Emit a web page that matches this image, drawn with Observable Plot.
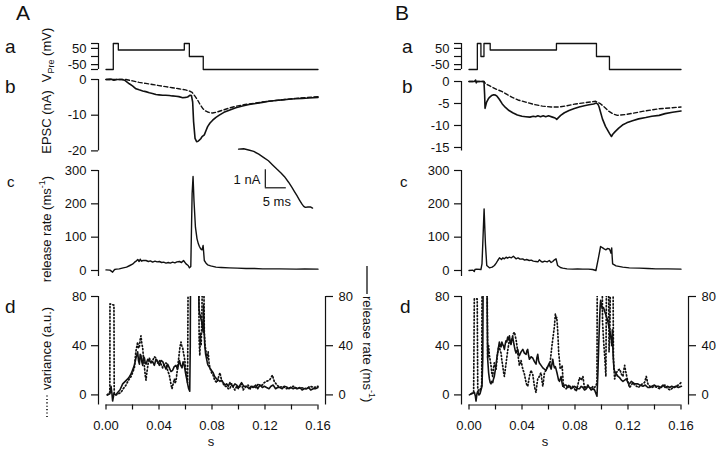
<!DOCTYPE html>
<html><head><meta charset="utf-8">
<script src="https://cdn.jsdelivr.net/npm/d3@7"></script>
<script src="https://cdn.jsdelivr.net/npm/@observablehq/plot@0.6"></script>
<style>
body{margin:0;background:#fff;}
#fig{position:relative;width:720px;height:452px;overflow:hidden;background:#fff;}
#fig svg{position:absolute;overflow:visible;}
</style></head><body><div id="fig"></div>
<script>
// ---------------- data ----------------
const xTicks = [0,0.02,0.04,0.06,0.08,0.10,0.12,0.14,0.16];
const vTicks = [80,50,0,-50,-80];
const vTickLabels = {"50":"50","-50":"-50"};
const epscTicksA = [0,-10,-20];
const epscTicksB = [0,-5,-10,-15];
const rateTicks = [0,100,200,300];
const dTicks = [0,40,80];

// presynaptic voltage (mV), step changes [s, mV]
const vPreA = [[0,-80],[0.0055,80],[0.0093,40],[0.0591,80],[0.0629,0],[0.0734,-80],[0.16,-80]];
const vPreB = [[0,-80],[0.0063,80],[0.009,0],[0.0113,80],[0.016,40],[0.066,80],[0.0962,0],[0.106,-80],[0.16,-80]];

// EPSC (nA) measured (solid) and dashed
const epscA = [[0,0],[0.004,0.1],[0.006,-0.2],[0.008,0],[0.012,0],[0.014,-0.2],[0.0176,-1.2],[0.020,-1.8],[0.0226,-2.6],[0.025,-2.9],[0.0277,-3.2],[0.030,-3.4],[0.0327,-3.7],[0.035,-3.9],[0.0377,-4.2],[0.040,-4.3],[0.0428,-4.4],[0.045,-4.4],[0.0478,-4.5],[0.050,-4.6],[0.0528,-4.7],[0.055,-4.8],[0.0579,-5.1],[0.060,-5.0],[0.0616,-4.9],[0.0635,-4.4],[0.0645,-4.5],[0.0654,-6.3],[0.0661,-11.8],[0.0672,-16.5],[0.0684,-17.4],[0.0695,-17.3],[0.0704,-17.0],[0.0715,-16.6],[0.0725,-16.0],[0.0742,-15.5],[0.0755,-14.3],[0.0767,-13.2],[0.0785,-12.2],[0.0805,-11.4],[0.083,-10.6],[0.0855,-10.0],[0.089,-9.2],[0.093,-8.6],[0.098,-7.9],[0.103,-7.4],[0.108,-7.0],[0.113,-6.7],[0.118,-6.4],[0.123,-6.1],[0.128,-5.9],[0.133,-5.7],[0.138,-5.55],[0.143,-5.4],[0.148,-5.3],[0.153,-5.2],[0.16,-5.0]];
const epscDashA = [[0,0],[0.015,0],[0.020,-0.4],[0.025,-0.8],[0.030,-1.1],[0.035,-1.4],[0.040,-1.7],[0.045,-2.0],[0.050,-2.3],[0.055,-2.6],[0.060,-2.9],[0.0635,-3.3],[0.065,-3.6],[0.067,-4.6],[0.0692,-5.8],[0.071,-7.0],[0.073,-8.1],[0.075,-8.8],[0.0767,-9.1],[0.0785,-9.3],[0.0805,-9.4],[0.084,-9.1],[0.088,-8.6],[0.093,-8.0],[0.098,-7.5],[0.105,-7.0],[0.113,-6.6],[0.120,-6.2],[0.128,-5.9],[0.135,-5.6],[0.143,-5.3],[0.150,-5.1],[0.16,-4.8]];
const epscB = [[0,0],[0.004,0],[0.005,0.3],[0.0055,-0.3],[0.006,0],[0.0113,0],[0.0118,-3],[0.0121,-6.1],[0.0133,-4.7],[0.0145,-4.0],[0.0155,-3.6],[0.017,-3.2],[0.0187,-3.0],[0.020,-3.1],[0.0213,-3.4],[0.023,-4.1],[0.0251,-5.1],[0.0275,-5.9],[0.0302,-6.6],[0.033,-7.1],[0.0365,-7.6],[0.040,-7.9],[0.0428,-8.0],[0.046,-8.1],[0.0485,-7.9],[0.0503,-8.0],[0.052,-7.8],[0.054,-8.0],[0.056,-7.8],[0.0579,-8.0],[0.060,-7.8],[0.063,-8.1],[0.065,-8.3],[0.0662,-8.6],[0.0675,-8.2],[0.0692,-7.7],[0.072,-7.1],[0.0755,-6.6],[0.079,-6.2],[0.0831,-5.8],[0.087,-5.5],[0.0906,-5.3],[0.094,-5.1],[0.0962,-4.9],[0.0975,-5.3],[0.0982,-5.8],[0.1007,-8.5],[0.103,-10.2],[0.1045,-11.0],[0.106,-11.8],[0.1075,-12.5],[0.1085,-12.0],[0.1103,-11.4],[0.113,-10.6],[0.1158,-9.9],[0.119,-9.4],[0.1234,-8.9],[0.128,-8.5],[0.1334,-8.2],[0.138,-7.9],[0.1435,-7.7],[0.148,-7.3],[0.1536,-7.0],[0.16,-6.7]];
const epscDashB = [[0,0],[0.0113,0],[0.0125,-0.5],[0.015,-0.9],[0.0176,-1.3],[0.021,-1.8],[0.0251,-2.3],[0.029,-3.0],[0.0327,-3.6],[0.037,-4.2],[0.0428,-4.7],[0.049,-5.2],[0.0554,-5.6],[0.062,-5.8],[0.068,-5.8],[0.074,-5.5],[0.0805,-5.1],[0.088,-4.8],[0.0956,-4.5],[0.0994,-5.1],[0.1025,-5.9],[0.1057,-6.8],[0.109,-7.4],[0.112,-7.7],[0.1183,-7.5],[0.124,-7.2],[0.1309,-6.8],[0.137,-6.5],[0.1435,-6.2],[0.152,-6.0],[0.16,-5.8]];

// release rate (ms^-1)
const rateA = [[0,2],[0.003,1],[0.005,-5],[0.0065,3],[0.008,4],[0.010,5],[0.013,8],[0.0155,10],[0.018,15],[0.020,19],[0.0216,25],[0.023,29],[0.024,33],[0.025,27],[0.0258,34],[0.0267,28],[0.028,30],[0.0302,30],[0.032,27],[0.0335,29],[0.0352,25],[0.037,28],[0.0385,26],[0.0403,27],[0.042,24],[0.0435,25],[0.0453,22],[0.047,24],[0.0485,22],[0.0503,25],[0.052,23],[0.0535,26],[0.0554,27],[0.057,24],[0.0585,30],[0.0604,20],[0.062,15],[0.063,8],[0.064,12],[0.065,230],[0.0657,282],[0.0664,210],[0.0675,130],[0.0687,95],[0.0697,80],[0.0705,72],[0.0715,65],[0.0725,62],[0.073,70],[0.0733,75],[0.0737,55],[0.0742,30],[0.0755,22],[0.0767,17],[0.079,14],[0.083,10],[0.087,9],[0.093,8],[0.099,7],[0.1057,6],[0.112,6],[0.1183,5],[0.125,5],[0.131,5],[0.1435,4],[0.150,5],[0.16,4]];
const rateB = [[0,0],[0.003,1],[0.004,-3],[0.0045,3],[0.0057,4],[0.009,3],[0.0098,20],[0.0104,80],[0.0114,185],[0.012,120],[0.0124,80],[0.0134,15],[0.0154,8],[0.0175,10],[0.0192,15],[0.0205,22],[0.0217,30],[0.023,38],[0.0245,33],[0.0255,38],[0.0267,35],[0.028,40],[0.029,37],[0.0305,40],[0.032,38],[0.0335,43],[0.0343,40],[0.0355,35],[0.037,38],[0.0385,34],[0.0405,35],[0.042,31],[0.0435,33],[0.0455,30],[0.047,31],[0.0485,28],[0.0506,27],[0.052,26],[0.0531,32],[0.0545,27],[0.0556,25],[0.057,28],[0.059,26],[0.0606,30],[0.062,24],[0.0632,27],[0.0645,32],[0.0657,35],[0.0669,15],[0.069,9],[0.0707,7],[0.074,5],[0.0782,4],[0.082,5],[0.0858,4],[0.090,4],[0.0933,3],[0.0958,0],[0.0978,40],[0.0993,72],[0.100,70],[0.1009,68],[0.102,65],[0.1034,62],[0.1045,66],[0.1059,65],[0.1065,60],[0.1072,52],[0.1077,68],[0.108,45],[0.1084,20],[0.111,14],[0.116,10],[0.121,8],[0.1285,7],[0.135,6],[0.1411,5],[0.150,5],[0.16,4]];

// panel d: release rate (solid) and variance (dotted); values above 80 are off-scale
const dRateA = [[0.001,0],[0.003,1],[0.0038,7],[0.0045,1],[0.005,-5],[0.006,1],[0.0075,0],[0.0088,2],[0.0105,4],[0.0126,9],[0.0145,11],[0.0164,13],[0.0178,15],[0.0189,17],[0.020,20],[0.0214,24],[0.0226,30],[0.0239,35],[0.0245,28],[0.0252,25],[0.0258,33],[0.0264,32],[0.027,27],[0.0277,24],[0.0283,31],[0.029,30],[0.0296,26],[0.0302,25],[0.0315,29],[0.0327,28],[0.034,26],[0.0352,27],[0.0365,24],[0.0377,29],[0.039,27],[0.0403,24],[0.0415,28],[0.0428,27],[0.044,24],[0.0453,21],[0.0465,25],[0.0478,22],[0.049,19],[0.0503,20],[0.0515,23],[0.0528,24],[0.054,21],[0.0554,28],[0.0564,24],[0.0574,22],[0.0582,27],[0.0591,24],[0.060,18],[0.0609,13],[0.0618,8],[0.0624,5],[0.0632,3],[0.0636,40],[0.0638,100],[0.0698,100],[0.0702,70],[0.0707,66],[0.0713,64],[0.0718,61],[0.0723,59],[0.0728,55],[0.0733,51],[0.0736,73],[0.0738,60],[0.0745,41],[0.0752,33],[0.0758,30],[0.0765,26],[0.0771,24],[0.0784,22],[0.0795,20],[0.0809,18],[0.082,15],[0.0835,13],[0.0848,12],[0.086,11],[0.0872,12],[0.0885,10],[0.0898,8],[0.091,9],[0.0923,7],[0.0935,10],[0.0948,8],[0.0961,7],[0.0973,9],[0.0986,8],[0.1,6],[0.1023,10],[0.104,7],[0.1061,7],[0.108,5],[0.1095,7],[0.1111,6],[0.113,8],[0.1145,5],[0.1162,8],[0.118,6],[0.1195,7],[0.1212,6],[0.123,5],[0.1245,7],[0.1262,8],[0.128,5],[0.1295,6],[0.1313,6],[0.133,5],[0.1345,7],[0.1363,6.5],[0.138,5],[0.1395,6],[0.1413,5],[0.143,6],[0.1445,5],[0.1463,6],[0.148,4],[0.1495,5],[0.1514,5],[0.153,6],[0.1545,4],[0.1564,5],[0.158,5],[0.16,6]];
const dVarA = [[0.001,0],[0.0025,2],[0.0029,2],[0.003,74],[0.006,73],[0.0062,1],[0.0075,0],[0.0095,1],[0.0113,2],[0.013,5],[0.0151,8],[0.017,12],[0.0189,15],[0.020,18],[0.0214,22],[0.0225,35],[0.0239,43],[0.0245,38],[0.0252,39],[0.0258,45],[0.0264,48],[0.027,42],[0.0277,38],[0.0283,30],[0.029,23],[0.0296,16],[0.0302,12],[0.0308,18],[0.0315,23],[0.032,27],[0.0327,30],[0.034,27],[0.0352,28],[0.0365,31],[0.0377,30],[0.039,26],[0.0403,28],[0.0415,25],[0.0428,22],[0.044,25],[0.0453,26],[0.0465,20],[0.0478,16],[0.049,9],[0.0498,5],[0.0507,9],[0.0516,13],[0.0522,10],[0.0528,11],[0.0538,20],[0.0549,30],[0.0557,38],[0.0566,43],[0.0572,40],[0.0579,38],[0.0585,34],[0.0591,31],[0.0598,25],[0.0604,19],[0.061,14],[0.0616,10],[0.062,100],[0.070,100],[0.0703,45],[0.0708,32],[0.0713,50],[0.0718,40],[0.0723,60],[0.0728,100],[0.0738,100],[0.0742,50],[0.0748,40],[0.0755,35],[0.0765,30],[0.0771,35],[0.0778,26],[0.0784,22],[0.0797,18],[0.0809,16],[0.082,12],[0.0835,10],[0.0848,14],[0.086,18],[0.0872,12],[0.0885,9],[0.0898,7],[0.091,7],[0.0923,5],[0.0935,5],[0.0948,9],[0.0961,6],[0.0973,4],[0.0986,7],[0.1,5],[0.1023,9],[0.1035,4],[0.105,6],[0.1072,8],[0.109,5],[0.111,7],[0.113,6],[0.115,9],[0.117,7],[0.1195,10],[0.121,11],[0.1235,12],[0.1256,16],[0.127,11],[0.129,8],[0.1313,6],[0.133,7],[0.1363,5],[0.139,6],[0.1413,7],[0.144,5],[0.147,6],[0.1514,5],[0.154,7],[0.157,6],[0.16,7]];
const dRateB = [[0.0003,0],[0.002,1],[0.0041,2],[0.0048,-1],[0.0053,-5],[0.006,1],[0.0066,3],[0.0075,0],[0.0083,1],[0.0098,7],[0.0104,30],[0.0107,100],[0.0135,100],[0.0138,60],[0.0141,29],[0.0148,18],[0.0154,13],[0.016,10],[0.0166,9],[0.0172,11],[0.0179,10],[0.0185,13],[0.0191,15],[0.0198,20],[0.0204,24],[0.021,30],[0.0216,34],[0.0222,38],[0.0229,43],[0.0235,40],[0.0242,39],[0.0248,43],[0.0254,41],[0.026,40],[0.0267,37],[0.0273,41],[0.0279,44],[0.0285,43],[0.0292,47],[0.0298,45],[0.0305,48],[0.031,44],[0.0317,41],[0.0323,45],[0.033,47],[0.0336,43],[0.0343,39],[0.0349,36],[0.0355,34],[0.0362,36],[0.0368,37],[0.0374,33],[0.038,32],[0.0393,35],[0.0406,37],[0.0418,34],[0.0431,33],[0.0437,36],[0.0443,37],[0.045,32],[0.0456,29],[0.0469,31],[0.0481,30],[0.0494,27],[0.0506,25],[0.0512,30],[0.0519,33],[0.0525,28],[0.0531,26],[0.0544,24],[0.0557,22],[0.0569,21],[0.0582,20],[0.0594,23],[0.0607,26],[0.0613,23],[0.062,21],[0.0626,25],[0.0632,29],[0.0638,25],[0.0645,22],[0.0651,23],[0.0657,21],[0.0664,18],[0.067,15],[0.0676,12],[0.0683,11],[0.0689,13],[0.0695,15],[0.0702,10],[0.0708,7],[0.072,8],[0.0733,8],[0.0745,6],[0.0758,7],[0.077,5],[0.0784,6],[0.0796,7],[0.0809,6],[0.0821,5],[0.0834,5],[0.0847,7],[0.086,6],[0.0872,4],[0.0885,5],[0.0897,7],[0.091,6],[0.0922,4],[0.0935,5],[0.0948,4],[0.0955,2],[0.0966,-1],[0.0973,18],[0.0979,40],[0.0986,62],[0.099,72],[0.0994,77],[0.1,73],[0.1006,70],[0.1015,71],[0.1024,68],[0.103,66],[0.1037,64],[0.1043,62],[0.1049,59],[0.1055,56],[0.1062,53],[0.1068,48],[0.1074,45],[0.1078,40],[0.1082,53],[0.1087,34],[0.1094,21],[0.11,19],[0.1112,17],[0.1125,15],[0.1137,14],[0.115,12],[0.1162,11],[0.1175,12],[0.1187,13],[0.12,10],[0.1212,9],[0.1225,11],[0.1238,10],[0.125,9],[0.1275,9],[0.129,8],[0.1313,7],[0.133,8],[0.135,6],[0.1364,6],[0.138,7],[0.14,8],[0.1414,7],[0.143,7],[0.1445,6],[0.1464,8],[0.148,6],[0.15,7],[0.1514,6],[0.153,7],[0.155,6],[0.1565,7],[0.158,6],[0.1603,7]];
const dVarB = [[0.0016,1],[0.0035,2],[0.004,78],[0.0062,78],[0.0066,5],[0.0075,3],[0.0088,5],[0.0096,8],[0.0099,100],[0.0136,100],[0.0141,30],[0.0148,40],[0.0154,32],[0.016,28],[0.0166,24],[0.0172,18],[0.0179,15],[0.0185,22],[0.0191,26],[0.0198,23],[0.0204,21],[0.021,28],[0.0216,34],[0.0222,38],[0.0229,40],[0.0235,36],[0.0242,34],[0.0248,28],[0.0254,24],[0.026,19],[0.0267,15],[0.0273,20],[0.0279,25],[0.0285,30],[0.0292,36],[0.0298,40],[0.0305,45],[0.0311,43],[0.0317,41],[0.0323,45],[0.033,48],[0.0336,50],[0.0343,51],[0.0349,48],[0.0355,45],[0.0362,40],[0.0368,34],[0.0374,29],[0.038,24],[0.0387,26],[0.0393,28],[0.04,24],[0.0406,21],[0.0412,19],[0.0418,17],[0.0425,13],[0.0431,10],[0.0437,8],[0.0443,7],[0.045,11],[0.0456,15],[0.0463,18],[0.0469,20],[0.0475,18],[0.0481,17],[0.0487,12],[0.0494,7],[0.05,4],[0.0506,2],[0.0512,8],[0.0519,13],[0.0525,14],[0.0531,15],[0.0538,17],[0.0544,18],[0.055,12],[0.0557,7],[0.0563,12],[0.0569,18],[0.0576,19],[0.0582,21],[0.0595,23],[0.0607,24],[0.0614,28],[0.062,34],[0.0626,40],[0.0632,45],[0.0638,50],[0.0645,56],[0.0652,66],[0.0657,62],[0.0662,63],[0.0666,58],[0.067,51],[0.0674,42],[0.0677,34],[0.0683,28],[0.0688,21],[0.0695,22],[0.0703,24],[0.0708,15],[0.0713,7],[0.072,6],[0.0733,5],[0.0745,7],[0.0758,8],[0.077,6],[0.0784,7],[0.0796,5],[0.0809,3],[0.0821,8],[0.0834,14],[0.0847,12],[0.086,15],[0.0866,10],[0.0872,5],[0.0885,7],[0.0897,8],[0.091,6],[0.0922,5],[0.0935,7],[0.0948,6],[0.096,8],[0.0966,10],[0.0968,100],[0.1005,100],[0.1008,60],[0.1015,45],[0.1025,30],[0.1033,15],[0.1038,100],[0.1053,100],[0.1057,35],[0.1063,50],[0.1068,100],[0.1087,100],[0.109,30],[0.1099,13],[0.1105,15],[0.1112,18],[0.1125,20],[0.1137,21],[0.115,17],[0.1162,15],[0.1168,20],[0.1175,24],[0.1181,20],[0.1187,17],[0.12,10],[0.1212,6],[0.1225,8],[0.1238,10],[0.125,8],[0.1265,7],[0.128,6],[0.1295,8],[0.131,9],[0.1325,10],[0.1338,15],[0.135,9],[0.1365,7],[0.138,6],[0.14,7],[0.142,6],[0.144,5],[0.146,7],[0.148,8],[0.15,5],[0.152,4],[0.154,6],[0.156,7],[0.158,8],[0.16,10]];

// inset (ms, nA) and its scale bar
const insetTrace = [[0,0],[1.2,0.02],[2.4,-0.05],[3.6,-0.13],[4.8,-0.28],[6.0,-0.47],[7.1,-0.65],[8.1,-0.88],[9.1,-1.11],[10.1,-1.33],[11.1,-1.58],[11.9,-1.84],[12.7,-2.13],[13.3,-2.36],[13.9,-2.59],[14.5,-2.83],[15.1,-3.06],[15.5,-3.18],[15.9,-3.24],[16.5,-3.22],[17.1,-3.21],[17.6,-3.28]];
const scaleBar = {t: [6.36, 11.36], v: [-2.15, -1.15], tLabel: "5 ms", vLabel: "1 nA"};

// ---------------- drawing ----------------
const FONT = '"Liberation Sans", Arial, Helvetica, sans-serif';
const INK = "#111";
const fig = document.getElementById("fig");
const SCALE = 1325;           // px per second
const T0 = -7.5 / SCALE;      // y-axis line sits 7.5px left of t=0

function panel(fr, xDomain, yDomain, marks) {
  const ml = 80, mr = 60, mt = 20, mb = 50;
  const svg = Plot.plot({
    width: fr.x2 - fr.x1 + ml + mr,
    height: fr.y2 - fr.y1 + mt + mb,
    marginLeft: ml, marginRight: mr, marginTop: mt, marginBottom: mb,
    x: {domain: xDomain, axis: null},
    y: {domain: yDomain, axis: null},
    style: {background: "transparent", overflow: "visible", fontFamily: FONT, fontSize: "13px", color: INK},
    marks
  });
  svg.style.left = (fr.x1 - ml) + "px";
  svg.style.top = (fr.y1 - mt) + "px";
  fig.appendChild(svg);
}
const xy = {x: d => d[0], y: d => d[1]};
const yAxisLine = (x, lo, hi) => Plot.ruleX([{x, lo, hi}], {x: "x", y1: "lo", y2: "hi", stroke: INK, strokeWidth: 1.2});
const leftAxis = (ticks, fmt) => Plot.axisY({anchor: "left", ticks, tickFormat: fmt || (d => String(d)), tickSize: 7, tickPadding: 5, label: null, fontSize: 13, stroke: INK, strokeWidth: 1.2, fill: INK});

function column(xa, vPre, yV, yE, epscDom, epscTicks, epscSolid, epscDash, rate, dRate, dVar) {
  const xEnd = xa + 7.5 + 0.16 * SCALE;
  // a: voltage
  panel({x1: xa, x2: xEnd, y1: yV[0], y2: yV[1]}, [T0, 0.16], [-80, 80], [
    yAxisLine(T0, -80, 80),
    leftAxis(vTicks, d => vTickLabels[String(d)] || ""),
    Plot.line(vPre, {...xy, curve: "step-after", stroke: INK, strokeWidth: 1.3})
  ]);
  // b: EPSC
  panel({x1: xa, x2: xEnd, y1: yE[0], y2: yE[1]}, [T0, 0.16], epscDom, [
    yAxisLine(T0, epscDom[0], 0),
    leftAxis(epscTicks),
    Plot.line(epscDash, {...xy, stroke: INK, strokeWidth: 1.4, strokeDasharray: "4,2.5"}),
    Plot.line(epscSolid, {...xy, stroke: INK, strokeWidth: 1.6})
  ]);
  // c: release rate
  panel({x1: xa, x2: xEnd, y1: 170.3, y2: 276.3}, [T0, 0.16], [-18, 300], [
    yAxisLine(T0, -18, 300),
    leftAxis(rateTicks),
    Plot.line(rate, {...xy, stroke: INK, strokeWidth: 1.4})
  ]);
  // d: rate and variance
  const dEnd = xa + 7.5 + 0.1653 * SCALE + 0.5;
  const tMax = (dEnd - xa) / SCALE + T0;
  panel({x1: xa, x2: dEnd, y1: 295.8, y2: 404.3}, [T0, tMax], [-8.2, 80], [
    yAxisLine(T0, -8.2, 80),
    yAxisLine(tMax, -8.2, 80),
    Plot.ruleY([{y: -8.2, a: 0, b: 0.16}], {y: "y", x1: "a", x2: "b", stroke: INK, strokeWidth: 1.2}),
    leftAxis(dTicks),
    Plot.axisY({anchor: "right", ticks: dTicks, tickFormat: d => String(d), tickSize: 7, tickPadding: 6, label: null, fontSize: 13, stroke: INK, strokeWidth: 1.2, fill: INK}),
    Plot.axisX({anchor: "bottom", ticks: xTicks, tickFormat: d => (Math.round(d * 100) % 4 === 0 ? d.toFixed(2) : ""), tickSize: 5, tickPadding: 11, label: null, fontSize: 13, stroke: INK, strokeWidth: 1.2, fill: INK}),
    Plot.line(dVar, {...xy, stroke: INK, strokeWidth: 1.7, strokeDasharray: "1.1,2.3", clip: true}),
    Plot.line(dRate, {...xy, stroke: INK, strokeWidth: 1.6, clip: true})
  ]);
}

column(97.5, vPreA, [42.8, 68.8], [79.3, 150.7], [-20, 0], epscTicksA, epscA, epscDashA, rateA, dRateA, dVarA);
column(460.5, vPreB, [43, 69], [80.8, 150.3], [-15.8, 0], epscTicksB, epscB, epscDashB, rateB, dRateB, dVarB);

// inset in A
panel({x1: 236.2, x2: 316, y1: 144.7, y2: 211.3}, [-0.5, 18.5], [-3.5, 0.2], [
  Plot.line(insetTrace, {...xy, stroke: INK, strokeWidth: 1.4}),
  Plot.ruleX([scaleBar.t[0]], {y1: scaleBar.v[0], y2: scaleBar.v[1], stroke: INK, strokeWidth: 1.2}),
  Plot.ruleY([scaleBar.v[0]], {x1: scaleBar.t[0], x2: scaleBar.t[1], stroke: INK, strokeWidth: 1.2}),
  Plot.text([scaleBar.vLabel], {x: scaleBar.t[0], y: (scaleBar.v[0] + scaleBar.v[1]) / 2, text: d => d, textAnchor: "end", dx: -5, dy: 1, fontSize: 13, fill: INK}),
  Plot.text([scaleBar.tLabel], {x: (scaleBar.t[0] + scaleBar.t[1]) / 2, y: scaleBar.v[0], text: d => d, dy: 14, dx: 1, fontSize: 13, fill: INK})
]);

// ---------------- labels ----------------
const ov = d3.create("svg").attr("width", 720).attr("height", 452)
  .style("left", "0px").style("top", "0px")
  .attr("font-family", FONT).attr("fill", INK);
const big = [["A", 16, 20], ["B", 395, 20]];
big.forEach(([t, x, y]) => ov.append("text").attr("x", x).attr("y", y).attr("font-size", 21).text(t));
const subs = [["a", 5, 53, 19], ["b", 5, 93, 19], ["c", 7, 187, 15], ["d", 5, 313, 19],
              ["a", 402, 53, 19], ["b", 402, 93, 19], ["c", 400, 187, 15], ["d", 400, 313, 19]];
subs.forEach(([t, x, y, s]) => ov.append("text").attr("x", x).attr("y", y).attr("font-size", s).text(t));

function rotLabel(cx, cy, angle, build) {
  const g = ov.append("g").attr("transform", `translate(${cx},${cy}) rotate(${angle})`);
  build(g);
}
// V_Pre (mV)
rotLabel(51, 55, -90, g => {
  const t = g.append("text").attr("text-anchor", "middle").attr("font-size", 13);
  t.append("tspan").text("V");
  t.append("tspan").attr("font-size", 9).attr("dy", 3).text("Pre");
  t.append("tspan").attr("dy", -3).text(" (mV)");
});
rotLabel(51, 122, -90, g => g.append("text").attr("text-anchor", "middle").attr("font-size", 13).text("EPSC (nA)"));
rotLabel(51, 229, -90, g => {
  const t = g.append("text").attr("text-anchor", "middle").attr("font-size", 13);
  t.append("tspan").text("release rate (ms");
  t.append("tspan").attr("font-size", 9).attr("dy", -6).text("-1");
  t.append("tspan").attr("dy", 6).text(")");
});
rotLabel(51, 362, -90, g => {
  g.append("line").attr("x1", -55).attr("x2", -33).attr("y1", -4).attr("y2", -4)
    .attr("stroke", INK).attr("stroke-width", 1.6).attr("stroke-dasharray", "1.1,2.3");
  g.append("text").attr("x", -28).attr("font-size", 13).text("variance (a.u.)");
});
rotLabel(363, 294, 90, g => {
  g.append("line").attr("x1", -28).attr("x2", 0).attr("y1", -4).attr("y2", -4)
    .attr("stroke", INK).attr("stroke-width", 1.3);
  const t = g.append("text").attr("x", 2).attr("font-size", 13);
  t.append("tspan").text("release rate (ms");
  t.append("tspan").attr("font-size", 9).attr("dy", -6).text("-1");
  t.append("tspan").attr("dy", 6).text(")");
});
[["s", 211, 446], ["s", 545, 446]].forEach(([t, x, y]) =>
  ov.append("text").attr("x", x).attr("y", y).attr("text-anchor", "middle").attr("font-size", 13).text(t));
fig.appendChild(ov.node());
</script></body></html>
